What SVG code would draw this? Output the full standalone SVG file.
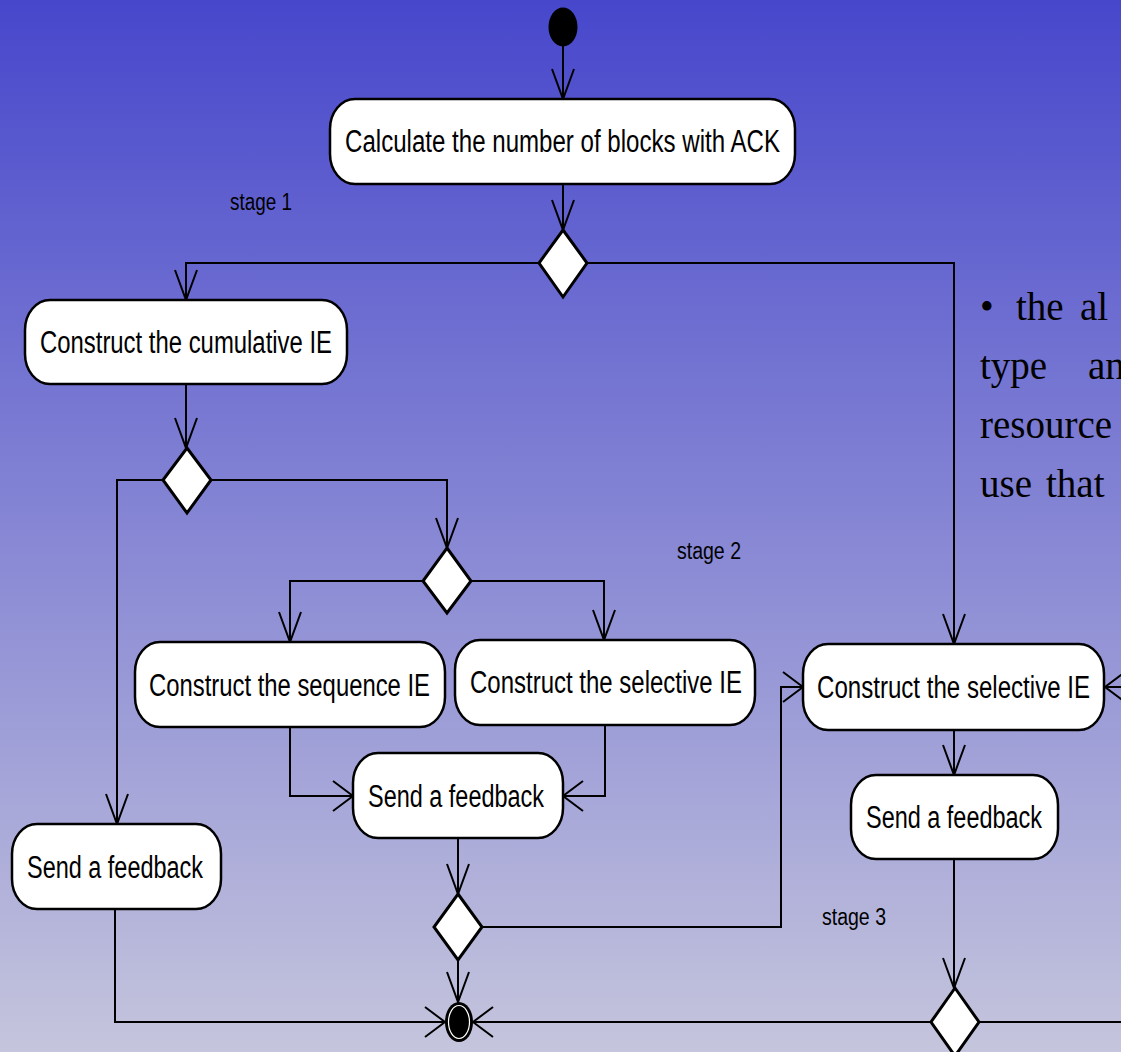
<svg xmlns="http://www.w3.org/2000/svg" width="1121" height="1052" viewBox="0 0 1121 1052">
<defs>
<linearGradient id="bg" x1="0" y1="0" x2="0" y2="1">
<stop offset="0" stop-color="#4747CC"/>
<stop offset="1" stop-color="#C5C5DD"/>
</linearGradient>
<marker id="av" markerWidth="40" markerHeight="40" refX="30" refY="11" orient="auto" markerUnits="userSpaceOnUse" overflow="visible">
<path d="M0,0 L30,11 L0,22" fill="none" stroke="#000" stroke-width="2"/>
</marker>
<marker id="ah" markerWidth="40" markerHeight="40" refX="20" refY="15" orient="auto" markerUnits="userSpaceOnUse" overflow="visible">
<path d="M0,0 L20,15 L0,30" fill="none" stroke="#000" stroke-width="2"/>
</marker>
</defs>
<style>
.box{fill:#fff;stroke:#000;stroke-width:2.5}
.dia{fill:#fff;stroke:#000;stroke-width:3}
.lbl{font-family:"Liberation Sans Narrow","Liberation Sans",Arial,sans-serif;font-size:31px;fill:#000;text-anchor:middle}
.stg{font-family:"Liberation Sans Narrow","Liberation Sans",Arial,sans-serif;font-size:23px;fill:#000}
.c{fill:none;stroke:#000;stroke-width:2}
.cv{marker-end:url(#av)}
.ch{marker-end:url(#ah)}
.ser{font-family:"Liberation Serif","Times New Roman",serif;font-size:39px;fill:#000}
</style>
<rect x="0" y="0" width="1121" height="1052" fill="url(#bg)"/>

<g id="connectors">
<path class="c cv" d="M563,46 L563,99"/>
<path class="c cv" d="M563,184 L563,230"/>
<path class="c cv" d="M539,263 L186,263 L186,300"/>
<path class="c cv" d="M587,263 L954,263 L954,644"/>
<path class="c cv" d="M186,384 L186,448"/>
<path class="c cv" d="M163,480 L117,480 L117,824"/>
<path class="c cv" d="M211,480 L447,480 L447,548"/>
<path class="c cv" d="M423,581 L290,581 L290,642"/>
<path class="c cv" d="M471,581 L604,581 L604,640"/>
<path class="c ch" d="M290,727 L290,796 L353,796"/>
<path class="c ch" d="M605,725 L605,796 L563,796"/>
<path class="c cv" d="M458,838 L458,894"/>
<path class="c ch" d="M482,927 L781,927 L781,687 L803,687"/>
<path class="c cv" d="M458,960 L458,1002"/>
<path class="c ch" d="M115,909 L115,1022 L445,1022"/>
<path class="c ch" d="M931,1022 L473,1022"/>
<path class="c ch" d="M1125,687 L1105,687"/>
<path class="c cv" d="M954,730 L954,775"/>
<path class="c cv" d="M954,859 L954,988"/>
<path class="c" d="M979,1022 L1125,1022"/>
</g>

<g id="start"><ellipse cx="563" cy="27" rx="14.5" ry="19.5" fill="#000"/></g>

<g id="n_calc">
<rect class="box" x="330" y="99" width="465" height="85" rx="25" ry="30"/>
<text class="lbl" x="562.5" y="152" textLength="435" lengthAdjust="spacingAndGlyphs">Calculate the number of blocks with ACK</text>
</g>

<g id="d1"><polygon class="dia" points="563,230 587,263 563,297 539,263"/></g>

<g id="n_cum">
<rect class="box" x="25" y="300" width="322" height="84" rx="25" ry="30"/>
<text class="lbl" x="186" y="353" textLength="292" lengthAdjust="spacingAndGlyphs">Construct the cumulative IE</text>
</g>

<g id="d2"><polygon class="dia" points="187,448 211,480 187,513 163,480"/></g>
<g id="d3"><polygon class="dia" points="447,548 471,581 447,613 423,581"/></g>

<g id="n_seq">
<rect class="box" x="135" y="642" width="310" height="85" rx="25" ry="30"/>
<text class="lbl" x="289.5" y="696" textLength="281" lengthAdjust="spacingAndGlyphs">Construct the sequence IE</text>
</g>

<g id="n_sel_mid">
<rect class="box" x="455" y="640" width="300" height="85" rx="25" ry="30"/>
<text class="lbl" x="606" y="693" textLength="272" lengthAdjust="spacingAndGlyphs">Construct the selective IE</text>
</g>

<g id="n_send_mid">
<rect class="box" x="353" y="753" width="210" height="85" rx="25" ry="30"/>
<text class="lbl" x="456" y="807" textLength="176" lengthAdjust="spacingAndGlyphs">Send a feedback</text>
</g>

<g id="d4"><polygon class="dia" points="458,894 482,927 458,960 434,927"/></g>

<g id="n_send_left">
<rect class="box" x="12" y="824" width="209" height="85" rx="25" ry="30"/>
<text class="lbl" x="115" y="878" textLength="176" lengthAdjust="spacingAndGlyphs">Send a feedback</text>
</g>

<g id="end">
<ellipse cx="459" cy="1022" rx="14" ry="20" fill="#000"/>
<ellipse cx="459" cy="1022" rx="10.5" ry="16.5" fill="none" stroke="#fff" stroke-width="1.2"/>
</g>

<g id="n_sel_right">
<rect class="box" x="803" y="644" width="301" height="86" rx="25" ry="30"/>
<text class="lbl" x="953.5" y="698" textLength="273" lengthAdjust="spacingAndGlyphs">Construct the selective IE</text>
</g>

<g id="n_send_right">
<rect class="box" x="851" y="775" width="207" height="84" rx="25" ry="30"/>
<text class="lbl" x="954" y="828" textLength="176" lengthAdjust="spacingAndGlyphs">Send a feedback</text>
</g>

<g id="d5"><polygon class="dia" points="955,988 979,1022 955,1056 931,1022"/></g>

<g id="labels">
<text class="stg" x="230" y="210" textLength="62" lengthAdjust="spacingAndGlyphs">stage 1</text>
<text class="stg" x="677" y="559" textLength="64" lengthAdjust="spacingAndGlyphs">stage 2</text>
<text class="stg" x="822" y="925" textLength="64" lengthAdjust="spacingAndGlyphs">stage 3</text>
</g>

<g id="side_text" class="ser">
<text x="980" y="320">•</text>
<text x="1016" y="320">the</text>
<text x="1080" y="320">al</text>
<text x="980" y="379">type</text>
<text x="1088" y="379">an</text>
<text x="980" y="438">resource</text>
<text x="980" y="497">use</text>
<text x="1046" y="497">that</text>
</g>
</svg>
